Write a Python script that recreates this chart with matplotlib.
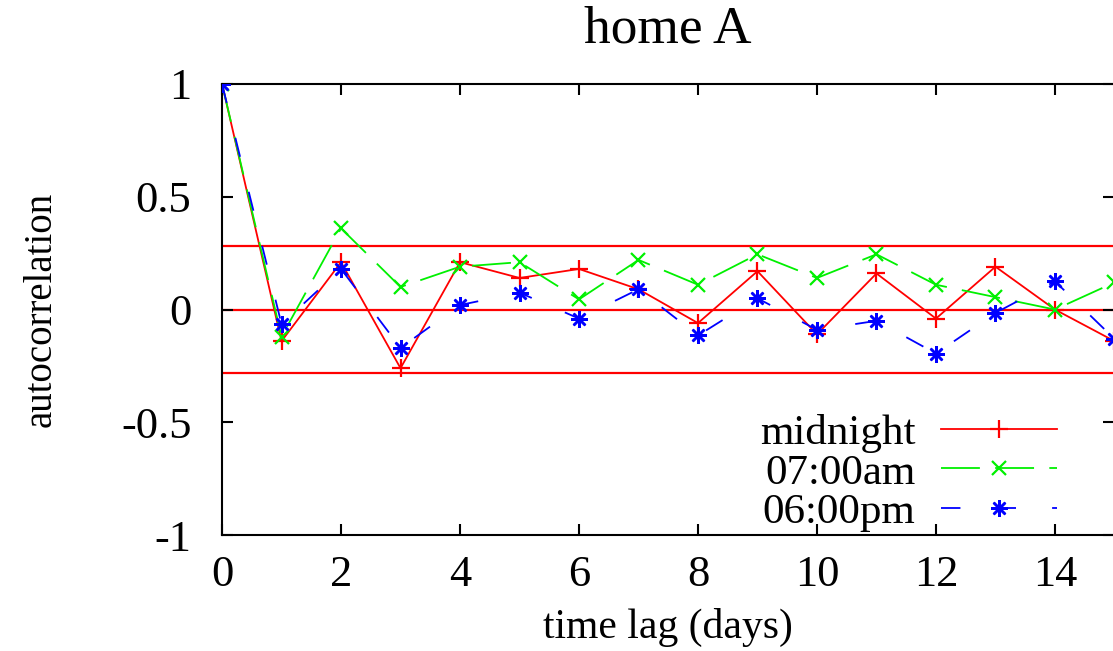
import numpy as np
import matplotlib
matplotlib.use("Agg")
import matplotlib.pyplot as plt

# autocorrelation per time lag
lags = list(range(16))
midnight = [1.0, -0.14, 0.21, -0.26, 0.21, 0.14, 0.18, 0.09, -0.06, 0.17, -0.11, 0.16, -0.04, 0.19, 0.0, -0.14]
am7 = [1.0, -0.12, 0.36, 0.10, 0.19, 0.21, 0.045, 0.22, 0.11, 0.245, 0.14, 0.245, 0.11, 0.055, 0.0, 0.12]
pm6 = [1.0, -0.065, 0.18, -0.17, 0.02, 0.075, -0.04, 0.09, -0.115, 0.05, -0.09, -0.05, -0.195, -0.015, 0.125, -0.13]
conf = 0.28
yticks = [-1, -0.5, 0, 0.5, 1]
ytick_labels = ["-1", "-0.5", "0", "0.5", "1"]
xticks = list(range(0, 16, 2))

plt.rcParams["font.family"] = ["Liberation Serif", "DejaVu Serif"]
plt.rcParams["font.size"] = 32
plt.rcParams["lines.scale_dashes"] = False

fig = plt.figure(figsize=(11.13, 6.51), dpi=100)
ax = fig.add_axes([0.1995, 0.178, 1.0013 - 0.1995, 0.871 - 0.178])

for yv in (conf, 0, -conf):
    ax.axhline(yv, color="#ff0000", lw=1.6, zorder=1)

ax.plot(lags, midnight, color="#ff0000", lw=1.3, marker="+", ms=13, mew=1.6,
        label="midnight", zorder=3)
ax.plot(lags, am7, color="#00f000", lw=1.3, marker="x", ms=10, mew=1.6,
        dashes=(28, 11), label="07:00am", zorder=3)
ax.plot(lags, pm6, color="#0000ff", lw=1.3, marker=(8, 2, 0), ms=12, mew=1.8,
        dashes=(14, 26), label="06:00pm", zorder=3)

ax.set_xlim(0, 15)
ax.set_ylim(-1, 1)
ax.set_xticks(xticks)
ax.set_yticks(yticks)
ax.set_yticklabels(ytick_labels)
ax.tick_params(direction="in", length=8, width=1.5, top=True, right=True)
ax.tick_params(axis="x", pad=14)
ax.tick_params(axis="y", pad=22)
for s in ax.spines.values():
    s.set_linewidth(1.5)

ax.set_title("home A", pad=30)
ax.set_xlabel("time lag (days)", fontsize=30, labelpad=10)
ax.set_ylabel("autocorrelation", fontsize=28, labelpad=44)

ax.legend(loc="lower right", bbox_to_anchor=(0.96, -0.04), frameon=False,
          markerfirst=False, numpoints=1, handlelength=2.7, handletextpad=0.6,
          labelspacing=0.0, borderaxespad=0.1, fontsize=31)

fig.savefig("out.png", dpi=100)
